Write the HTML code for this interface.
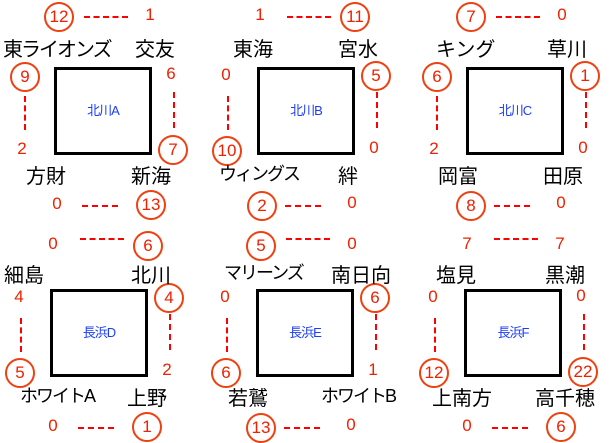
<!DOCTYPE html>
<html><head><meta charset="utf-8"><style>
body{margin:0;width:616px;height:442px;background:#fff;overflow:hidden;position:relative;font-family:"Liberation Sans","Noto Sans CJK JP",sans-serif}
.b{position:absolute;width:205px;height:220px}
.box{position:absolute;left:54px;top:67px;width:92px;height:82px;border:3px solid #000}
.lab{position:absolute;left:54px;top:100px;width:98px;text-align:center;color:#1a3cff;font-size:13px;letter-spacing:-1px}
.c,.n{position:absolute;width:26px;height:26px;margin:-14px 0 0 -14px;text-align:center;line-height:26px;color:#f02000;font-size:17px}
.c{border:2px solid #f04010;border-radius:50%}
.h{position:absolute;height:0;border-top:2px dashed #f00}
.v{position:absolute;width:0;border-left:2px dashed #f00}
.nm{position:absolute;font-size:20px;color:#000;white-space:nowrap}
.tl{left:3px;top:33px}.tr{right:30px;top:33px}.bl{left:26px;top:160px}.br{right:34px;top:160px}
.p1{left:58px;top:16px}.p2{left:151px;top:16px}.p3{left:24px;top:76px}.p4{left:23px;top:150px}
.p5{left:172px;top:75px}.p6{left:172px;top:149px}.p7{left:58px;top:205px}.p8{left:150px;top:204px}
.lo .p1,.lo .p2{top:23px}.lo .ht{top:23px}
.lo .tl,.lo .tr{top:37px}
</style></head><body>
<div class="b" style="left:0;top:0">
<div class="box"></div><div class="lab">北川A</div>
<div class="h ht" style="left:84px;width:44px;top:16px"></div><div class="v" style="left:24px;top:96px;height:34px"></div>
<div class="v" style="left:173px;top:92px;height:36px"></div><div class="h" style="left:82px;width:36px;top:205px"></div>
<div class="c p1">12</div><div class="n p2">1</div><div class="c p3">9</div><div class="n p4">2</div>
<div class="n p5">6</div><div class="c p6">7</div><div class="n p7">0</div><div class="c p8">13</div>
<div class="nm tl" style="letter-spacing:-2px">東ライオンズ</div><div class="nm tr">交友</div><div class="nm bl">方財</div><div class="nm br">新海</div>
</div>
<div class="b" style="left:203px;top:0">
<div class="box"></div><div class="lab">北川B</div>
<div class="h ht" style="left:84px;width:44px;top:16px"></div><div class="v" style="left:24px;top:96px;height:34px"></div>
<div class="v" style="left:173px;top:92px;height:36px"></div><div class="h" style="left:82px;width:36px;top:205px"></div>
<div class="n p1">1</div><div class="c p2">11</div><div class="n p3">0</div><div class="c p4">10</div>
<div class="c p5">5</div><div class="n p6">0</div><div class="c p7">2</div><div class="n p8">0</div>
<div class="nm tl" style="left:30px">東海</div><div class="nm tr">宮水</div><div class="nm bl" style="left:16px;font-size:18px;letter-spacing:-2px">ウィングス</div><div class="nm br" style="right:50px">絆</div>
</div>
<div class="b" style="left:412px;top:0">
<div class="box"></div><div class="lab">北川C</div>
<div class="h ht" style="left:84px;width:44px;top:16px"></div><div class="v" style="left:24px;top:96px;height:34px"></div>
<div class="v" style="left:173px;top:92px;height:36px"></div><div class="h" style="left:82px;width:36px;top:205px"></div>
<div class="c p1">7</div><div class="n p2">0</div><div class="c p3">6</div><div class="n p4">2</div>
<div class="c p5">1</div><div class="n p6">0</div><div class="c p7">8</div><div class="n p8">0</div>
<div class="nm tl" style="left:24px">キング</div><div class="nm tr">草川</div><div class="nm bl">岡富</div><div class="nm br">田原</div>
</div>
<div class="b lo" style="left:-4px;top:222px">
<div class="box"></div><div class="lab">長浜D</div>
<div class="h ht" style="left:84px;width:44px;top:16px"></div><div class="v" style="left:24px;top:96px;height:34px"></div>
<div class="v" style="left:173px;top:92px;height:36px"></div><div class="h" style="left:82px;width:36px;top:205px"></div>
<div class="n p1">0</div><div class="c p2">6</div><div class="n p3">4</div><div class="c p4">5</div>
<div class="c p5">4</div><div class="n p6">2</div><div class="n p7">0</div><div class="c p8">1</div>
<div class="nm tl" style="left:8px">細島</div><div class="nm tr">北川</div><div class="nm bl" style="left:24px;font-size:18px;letter-spacing:-2px">ホワイトA</div><div class="nm br">上野</div>
</div>
<div class="b lo" style="left:202px;top:222px">
<div class="box"></div><div class="lab">長浜E</div>
<div class="h ht" style="left:84px;width:44px;top:16px"></div><div class="v" style="left:24px;top:96px;height:34px"></div>
<div class="v" style="left:173px;top:92px;height:36px"></div><div class="h" style="left:82px;width:36px;top:205px"></div>
<div class="c p1">5</div><div class="n p2">0</div><div class="n p3">0</div><div class="c p4">6</div>
<div class="c p5">6</div><div class="n p6">1</div><div class="c p7">13</div><div class="n p8">0</div>
<div class="nm tl" style="left:22px;font-size:18px;letter-spacing:-2px">マリーンズ</div><div class="nm tr" style="right:16px">南日向</div><div class="nm bl">若鷲</div><div class="nm br" style="right:12px;font-size:18px;letter-spacing:-2px">ホワイトB</div>
</div>
<div class="b lo" style="left:410px;top:222px">
<div class="box"></div><div class="lab">長浜F</div>
<div class="h ht" style="left:84px;width:44px;top:16px"></div><div class="v" style="left:24px;top:96px;height:34px"></div>
<div class="v" style="left:173px;top:92px;height:36px"></div><div class="h" style="left:82px;width:36px;top:205px"></div>
<div class="n p1">7</div><div class="n p2">7</div><div class="n p3">0</div><div class="c p4">12</div>
<div class="n p5">0</div><div class="c p6">22</div><div class="n p7">0</div><div class="c p8">6</div>
<div class="nm tl" style="left:26px">塩見</div><div class="nm tr">黒潮</div><div class="nm bl" style="left:22px">上南方</div><div class="nm br" style="right:20px">高千穂</div>
</div>
</body></html>
